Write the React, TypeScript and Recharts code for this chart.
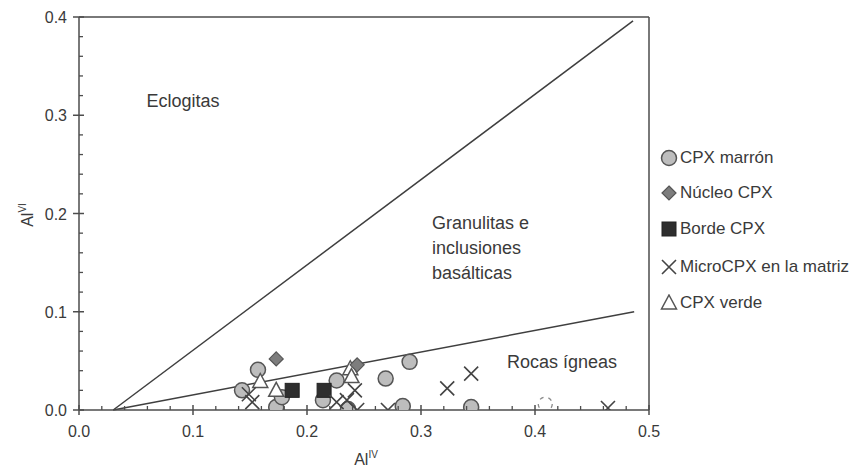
import React from 'react';
import { ScatterChart, Scatter, XAxis, YAxis, ReferenceLine, ReferenceDot } from 'recharts';

// ---------- data ----------
const cpxMarronX = [0.143, 0.157, 0.173, 0.178, 0.214, 0.226, 0.236, 0.269, 0.284, 0.290, 0.344];
const cpxMarronY = [0.020, 0.041, 0.003, 0.013, 0.010, 0.030, 0.001, 0.032, 0.004, 0.049, 0.003];

const nucleoX = [0.173, 0.244];
const nucleoY = [0.052, 0.046];

const bordeX = [0.187, 0.215];
const bordeY = [0.020, 0.020];

const microX = [0.149, 0.152, 0.226, 0.235, 0.242, 0.244, 0.271, 0.323, 0.344, 0.464];
const microY = [0.016, 0.008, 0.008, 0.010, 0.020, 0.000, 0.000, 0.022, 0.037, 0.002];

const verdeX = [0.159, 0.173, 0.238, 0.239];
const verdeY = [0.029, 0.020, 0.042, 0.034];

const ghostX = [0.409];
const ghostY = [0.006];

const eclogiteLineX = [0.03, 0.486];
const eclogiteLineY = [0.0, 0.396];
const igneousLineX = [0.03, 0.487];
const igneousLineY = [0.0, 0.1];

const xTicks = [0, 0.02, 0.04, 0.06, 0.08, 0.1, 0.12, 0.14, 0.16, 0.18, 0.2, 0.22, 0.24, 0.26, 0.28, 0.3, 0.32, 0.34, 0.36, 0.38, 0.4, 0.42, 0.44, 0.46, 0.48, 0.5];
const yTicks = [0, 0.02, 0.04, 0.06, 0.08, 0.1, 0.12, 0.14, 0.16, 0.18, 0.2, 0.22, 0.24, 0.26, 0.28, 0.3, 0.32, 0.34, 0.36, 0.38, 0.4];

const legendNames = ['CPX marrón', 'Núcleo CPX', 'Borde CPX', 'MicroCPX en la matriz', 'CPX verde'];

const zoneEclogitas = { x: 0.0912, y: 0.314, text: ['Eclogitas'] };
const zoneGranulitas = { x: 0.3097, y: 0.190, text: ['Granulitas e', 'inclusiones', 'basálticas'] };
const zoneRocas = { x: 0.4237, y: 0.049, text: ['Rocas ígneas'] };

// ---------- styles ----------
const FONT = '"Liberation Sans", Arial, Helvetica, sans-serif';
const INK = '#3a3a3a';
const AXIS = '#4d4d4d';

const zip = (xs: number[], ys: number[]) => xs.map((x, i) => ({ x, y: ys[i] }));

const CircleShape = (p: any) => (
  <circle cx={p.cx} cy={p.cy} r={7.5} fill="#bdbdbd" stroke="#555" strokeWidth={1.5} />
);
const GhostShape = (p: any) => (
  <circle cx={p.cx} cy={p.cy} r={7} fill="none" stroke="#8a8a8a" strokeWidth={1.3} strokeDasharray="4 5" />
);
const DiamondShape = (p: any) => {
  const { cx, cy } = p;
  return <polygon points={`${cx},${cy - 7} ${cx + 7},${cy} ${cx},${cy + 7} ${cx - 7},${cy}`} fill="#7d7d7d" stroke="#555" strokeWidth={1.2} />;
};
const SquareShape = (p: any) => (
  <rect x={p.cx - 7} y={p.cy - 7} width={14} height={14} fill="#2e2e2e" stroke="#222" strokeWidth={1} />
);
const CrossShape = (p: any) => {
  const { cx, cy } = p;
  return <path d={`M${cx - 7},${cy - 7}L${cx + 7},${cy + 7}M${cx + 7},${cy - 7}L${cx - 7},${cy + 7}`} stroke="#444" strokeWidth={1.6} fill="none" />;
};
const TriangleShape = (p: any) => {
  const { cx, cy } = p;
  return <polygon points={`${cx},${cy - 8} ${cx + 7.5},${cy + 6} ${cx - 7.5},${cy + 6}`} fill="#fff" stroke="#555" strokeWidth={1.5} />;
};

const isMajor = (v: number) => Math.abs(v * 10 - Math.round(v * 10)) < 1e-6;

const XTick = (p: any) => {
  const { x, y, payload } = p;
  const v = payload.value;
  if (isMajor(v)) {
    return (
      <g>
        <line x1={x} x2={x} y1={y - 5} y2={y + 5} stroke={AXIS} strokeWidth={1.5} />
        <text x={x} y={y + 27} textAnchor="middle" fontFamily={FONT} fontSize={16} fill={INK}>{v.toFixed(1)}</text>
      </g>
    );
  }
  return <line x1={x} x2={x} y1={y} y2={y - 4} stroke={AXIS} strokeWidth={1.3} />;
};

const YTick = (p: any) => {
  const { x, y, payload } = p;
  const v = payload.value;
  if (isMajor(v)) {
    return (
      <g>
        <line x1={x - 6} x2={x + 5} y1={y} y2={y} stroke={AXIS} strokeWidth={1.5} />
        <text x={x - 12} y={y + 6} textAnchor="end" fontFamily={FONT} fontSize={16} fill={INK}>{v.toFixed(1)}</text>
      </g>
    );
  }
  return <line x1={x} x2={x + 4} y1={y} y2={y} stroke={AXIS} strokeWidth={1.3} />;
};

const zoneLabel = (lines: string[], anchor: 'start' | 'middle') => (props: any) => {
  const vb = props.viewBox || {};
  const x = vb.x + (vb.width || 0) / 2;
  const y = vb.y + (vb.height || 0) / 2;
  return (
    <text x={x} y={y + 6} textAnchor={anchor} fontFamily={FONT} fontSize={18} fill={INK}>
      {lines.map((l, i) => (
        <tspan key={i} x={x} dy={i === 0 ? 0 : 25}>{l}</tspan>
      ))}
    </text>
  );
};

const XTitle = (props: any) => {
  const vb = props.viewBox;
  const cx = vb.x + vb.width / 2 + 2;
  return (
    <text x={cx} y={457} textAnchor="middle" fontFamily={FONT} fontSize={16} fill={INK}>
      Al<tspan dy={-7} fontSize={10}>IV</tspan>
    </text>
  );
};

const YTitle = () => (
  <text transform="translate(25,207) rotate(-90)" textAnchor="middle" fontFamily={FONT} fontSize={16} fill={INK}>
    Al<tspan dy={-7} fontSize={10}>VI</tspan>
  </text>
);

const legendIcons = [CircleShape, DiamondShape, SquareShape, CrossShape, TriangleShape];
const legendTops = [150, 185, 221, 259, 295];

export default function App() {
  return (
    <div style={{ position: 'relative', width: 864, height: 462, background: '#fff' }}>
      <ScatterChart width={864} height={462} margin={{ top: 9, right: 223, bottom: 0, left: 0 }}>
        <XAxis
          type="number"
          dataKey="x"
          domain={[0, 0.5]}
          ticks={xTicks}
          interval={0}
          tickSize={0}
          tickMargin={0}
          tick={<XTick />}
          height={60}
          stroke={AXIS}
          strokeWidth={1.5}
          allowDataOverflow
          label={{ content: <XTitle /> }}
        />
        <YAxis
          type="number"
          dataKey="y"
          domain={[0, 0.4]}
          ticks={yTicks}
          interval={0}
          tickSize={0}
          tickMargin={0}
          tick={<YTick />}
          width={71}
          stroke={AXIS}
          strokeWidth={1.5}
          allowDataOverflow
          label={{ content: <YTitle /> }}
        />
        <ReferenceLine y={0.4} stroke={AXIS} strokeWidth={1.5} />
        <ReferenceLine x={0.5} stroke={AXIS} strokeWidth={1.5} />
        <ReferenceLine
          segment={[{ x: eclogiteLineX[0], y: eclogiteLineY[0] }, { x: eclogiteLineX[1], y: eclogiteLineY[1] }]}
          stroke="#3f3f3f"
          strokeWidth={1.5}
        />
        <ReferenceLine
          segment={[{ x: igneousLineX[0], y: igneousLineY[0] }, { x: igneousLineX[1], y: igneousLineY[1] }]}
          stroke="#3f3f3f"
          strokeWidth={1.5}
        />
        <ReferenceDot x={zoneEclogitas.x} y={zoneEclogitas.y} r={0} fill="none" stroke="none" label={zoneLabel(zoneEclogitas.text, 'middle')} />
        <ReferenceDot x={zoneGranulitas.x} y={zoneGranulitas.y} r={0} fill="none" stroke="none" label={zoneLabel(zoneGranulitas.text, 'start')} />
        <ReferenceDot x={zoneRocas.x} y={zoneRocas.y} r={0} fill="none" stroke="none" label={zoneLabel(zoneRocas.text, 'middle')} />

        <Scatter name="ghost" data={zip(ghostX, ghostY)} shape={GhostShape} isAnimationActive={false} legendType="none" />
        <Scatter name={legendNames[0]} data={zip(cpxMarronX, cpxMarronY)} shape={CircleShape} isAnimationActive={false} />
        <Scatter name={legendNames[4]} data={zip(verdeX, verdeY)} shape={TriangleShape} isAnimationActive={false} />
        <Scatter name={legendNames[1]} data={zip(nucleoX, nucleoY)} shape={DiamondShape} isAnimationActive={false} />
        <Scatter name={legendNames[2]} data={zip(bordeX, bordeY)} shape={SquareShape} isAnimationActive={false} />
        <Scatter name={legendNames[3]} data={zip(microX, microY)} shape={CrossShape} isAnimationActive={false} />
      </ScatterChart>
      <div style={{ position: 'absolute', left: 652, top: 0, fontFamily: FONT, fontSize: 17, color: INK }}>
        {legendNames.map((n, i) => {
          const Icon = legendIcons[i];
          return (
            <div key={n} style={{ position: 'absolute', top: legendTops[i] - 10, left: 0, whiteSpace: 'nowrap', display: 'flex', alignItems: 'center', height: 20 }}>
              <svg width={18} height={18} style={{ marginRight: 2 }}>
                <Icon cx={9} cy={9} />
              </svg>
              <span>{n}</span>
            </div>
          );
        })}
      </div>
    </div>
  );
}
